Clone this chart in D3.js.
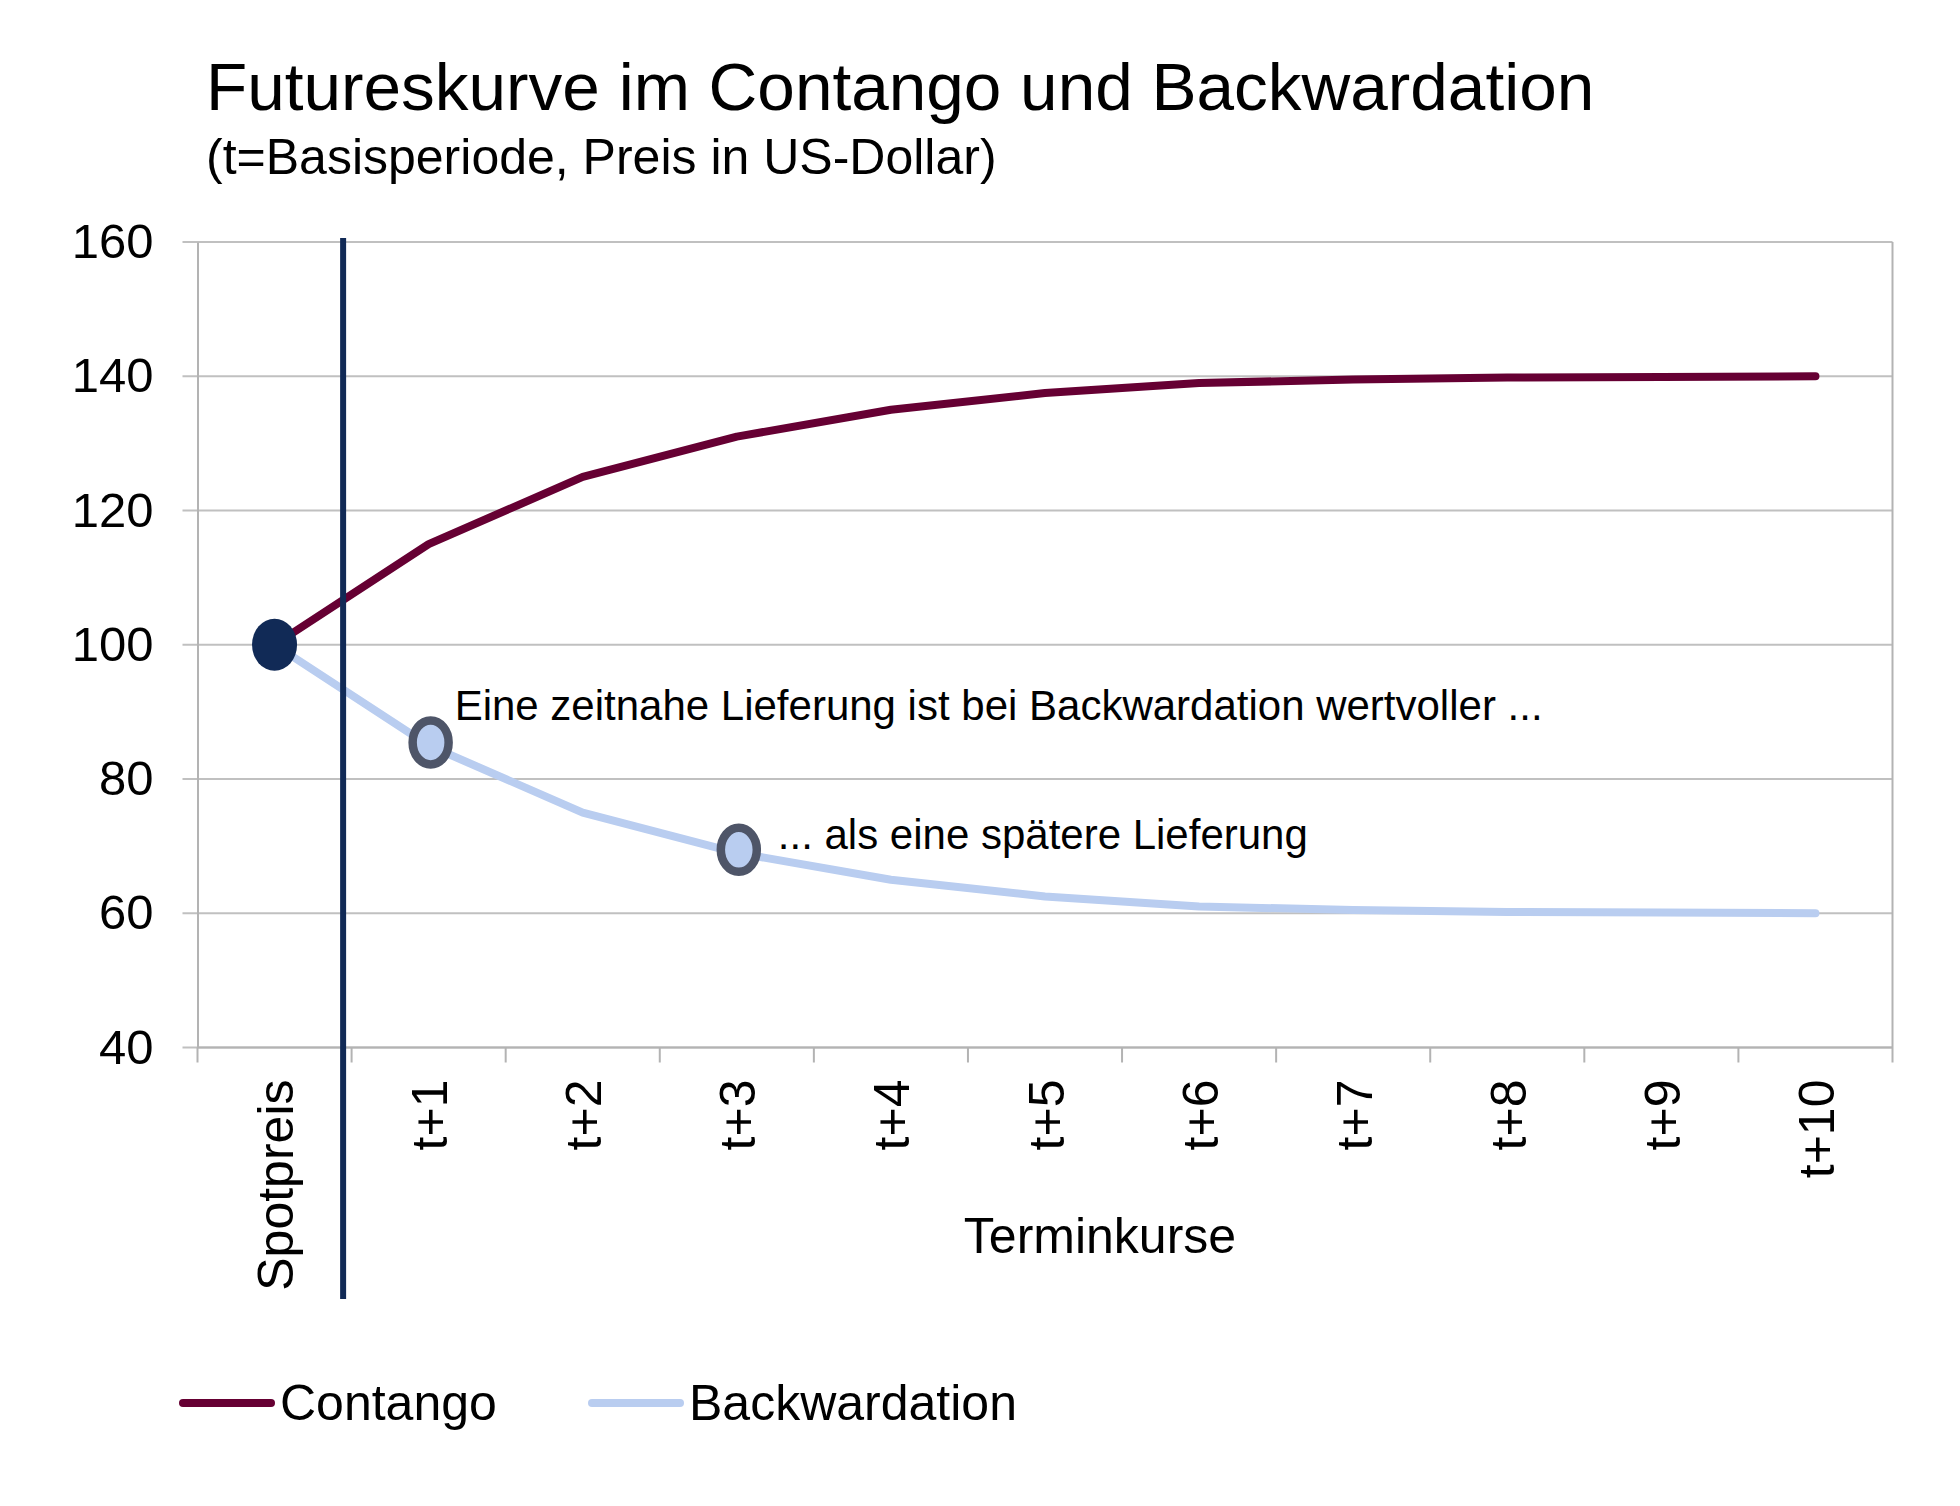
<!DOCTYPE html>
<html>
<head>
<meta charset="utf-8">
<script src="https://cdn.jsdelivr.net/npm/d3@7"></script>
<style>
    body { margin: 0; background: #ffffff; }
    svg text { font-family: "Liberation Sans", Arial, sans-serif; fill: #000000; }
</style>
</head>
<body>
<div id="chart"></div>
<script>
// Futureskurve im Contango und Backwardation

const categories = ['Spotpreis', 't+1', 't+2', 't+3', 't+4', 't+5', 't+6', 't+7', 't+8', 't+9', 't+10'];
const contango = [100, 115, 125, 131, 135, 137.5, 139, 139.5, 139.8, 139.9, 140];
const backwardation = [100, 85, 75, 69, 65, 62.5, 61, 60.5, 60.2, 60.1, 60];
const yTicks = [40, 60, 80, 100, 120, 140, 160];
const seriesNames = ['Contango', 'Backwardation'];

// annotated points (index into categories) and their texts
const notes = [
    { index: 1, text: 'Eine zeitnahe Lieferung ist bei Backwardation wertvoller ...' },
    { index: 3, text: '... als eine spätere Lieferung' }
];

const colors = {
    contango: '#660033',
    backwardation: '#b9cdf0',
    navy: '#112a56',
    ring: '#4e5568',
    grid: '#c0c0c0',
    axis: '#b3b3b3'
};

const width = 1960;
const height = 1506;
const plot = { left: 197.5, right: 1892.5, top: 242, bottom: 1047.5 };

const svg = d3.select('#chart').append('svg')
    .attr('width', width)
    .attr('height', height);

svg.append('rect')
    .attr('width', width)
    .attr('height', height)
    .attr('fill', '#ffffff');

// Title
svg.append('text')
    .attr('x', 206)
    .attr('y', 110)
    .style('font-size', '67.5px')
    .text('Futureskurve im Contango und Backwardation');

svg.append('text')
    .attr('x', 206)
    .attr('y', 174)
    .style('font-size', '50px')
    .text('(t=Basisperiode, Preis in US-Dollar)');

// Scales
const xScale = d3.scaleBand()
    .domain(categories)
    .range([plot.left, plot.right])
    .padding(0);

const xMid = d => xScale(d) + xScale.bandwidth() / 2;

const yScale = d3.scaleLinear()
    .domain([40, 160])
    .range([plot.bottom, plot.top]);

// Gridlines
svg.append('g')
    .selectAll('line')
    .data(yTicks)
    .join('line')
    .attr('x1', plot.left - 15)
    .attr('x2', plot.right)
    .attr('y1', d => yScale(d))
    .attr('y2', d => yScale(d))
    .attr('stroke', colors.grid)
    .attr('stroke-width', 2);

// Y axis
const yAxis = d3.axisLeft(yScale)
    .tickValues(yTicks)
    .tickSize(0)
    .tickPadding(44);

const yAxisG = svg.append('g')
    .attr('transform', `translate(${plot.left}, 0)`)
    .call(yAxis);

yAxisG.select('.domain')
    .attr('stroke', colors.axis)
    .attr('stroke-width', 2);

yAxisG.selectAll('.tick text')
    .style('font-size', '49px')
    .attr('fill', '#000000')
    .attr('font-family', '"Liberation Sans", Arial, sans-serif');

// Right border
svg.append('line')
    .attr('x1', plot.right)
    .attr('x2', plot.right)
    .attr('y1', plot.top)
    .attr('y2', plot.bottom + 15)
    .attr('stroke', colors.axis)
    .attr('stroke-width', 2);

// X axis with ticks on band boundaries
const xAxisG = svg.append('g')
    .attr('transform', `translate(0, ${plot.bottom})`);

xAxisG.append('line')
    .attr('x1', plot.left)
    .attr('x2', plot.right)
    .attr('stroke', colors.axis)
    .attr('stroke-width', 2);

xAxisG.selectAll('.xtick')
    .data(categories)
    .join('line')
    .attr('class', 'xtick')
    .attr('x1', d => xScale(d))
    .attr('x2', d => xScale(d))
    .attr('y1', 0)
    .attr('y2', 15)
    .attr('stroke', colors.axis)
    .attr('stroke-width', 2);

xAxisG.selectAll('.xlabel')
    .data(categories)
    .join('text')
    .attr('class', 'xlabel')
    .attr('transform', d => `translate(${xMid(d)}, 32) rotate(-90)`)
    .attr('dy', '0.37em')
    .attr('text-anchor', 'end')
    .style('font-size', '50px')
    .text(d => d);

svg.append('text')
    .attr('x', 1100)
    .attr('y', 1253)
    .attr('text-anchor', 'middle')
    .style('font-size', '50px')
    .text('Terminkurse');

// Lines
const line = d3.line()
    .x((d, i) => xMid(categories[i]))
    .y(d => yScale(d));

svg.append('path')
    .datum(backwardation)
    .attr('d', line)
    .attr('fill', 'none')
    .attr('stroke', colors.backwardation)
    .attr('stroke-width', 8)
    .attr('stroke-linejoin', 'round')
    .attr('stroke-linecap', 'round');

svg.append('path')
    .datum(contango)
    .attr('d', line)
    .attr('fill', 'none')
    .attr('stroke', colors.contango)
    .attr('stroke-width', 8)
    .attr('stroke-linejoin', 'round')
    .attr('stroke-linecap', 'round');

// Separator between spot and futures
const sepX = xScale(categories[0]) + xScale.bandwidth() * 0.945;
svg.append('line')
    .attr('x1', sepX)
    .attr('x2', sepX)
    .attr('y1', 238)
    .attr('y2', 1299)
    .attr('stroke', colors.navy)
    .attr('stroke-width', 6);

// Spot marker
svg.append('ellipse')
    .attr('cx', xMid(categories[0]))
    .attr('cy', yScale(contango[0]))
    .attr('rx', 22.5)
    .attr('ry', 26)
    .attr('fill', colors.navy);

// Annotated markers
svg.append('g')
    .selectAll('ellipse')
    .data(notes)
    .join('ellipse')
    .attr('cx', d => xMid(categories[d.index]) + 2)
    .attr('cy', d => yScale(backwardation[d.index]) - 3)
    .attr('rx', 18)
    .attr('ry', 22)
    .attr('fill', colors.backwardation)
    .attr('stroke', colors.ring)
    .attr('stroke-width', 8.5);

svg.append('g')
    .selectAll('text')
    .data(notes)
    .join('text')
    .attr('x', (d, i) => xMid(categories[d.index]) + (i === 0 ? 26 : 41))
    .attr('y', (d, i) => yScale(backwardation[d.index]) + (i === 0 ? -25 : -4))
    .style('font-size', '42px')
    .text(d => d.text);

// Legend
const legend = svg.append('g')
    .attr('transform', 'translate(183, 1403)');

const legendItems = legend.selectAll('g')
    .data(seriesNames)
    .join('g')
    .attr('transform', (d, i) => `translate(${i * 409}, 0)`);

legendItems.append('line')
    .attr('x1', 0)
    .attr('x2', 88)
    .attr('stroke', (d, i) => i === 0 ? colors.contango : colors.backwardation)
    .attr('stroke-width', 8)
    .attr('stroke-linecap', 'round');

legendItems.append('text')
    .attr('x', 97)
    .attr('y', 17)
    .style('font-size', '50px')
    .text(d => d);
</script>
</body>
</html>
